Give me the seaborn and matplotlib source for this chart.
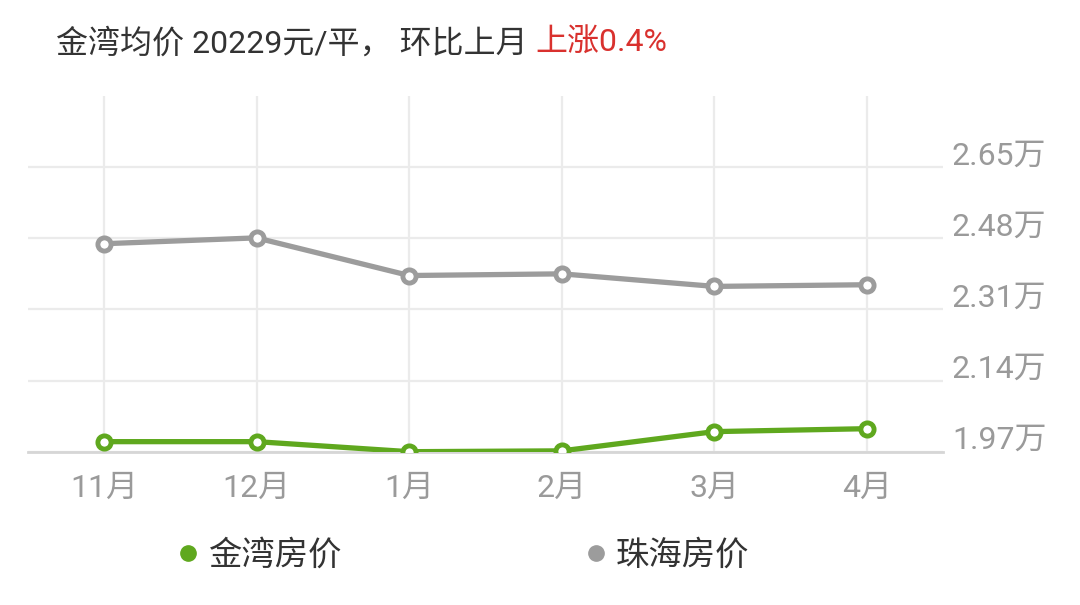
import matplotlib
matplotlib.use("Agg")
import matplotlib.pyplot as plt
import matplotlib.transforms as mtransforms
from matplotlib.lines import Line2D
import seaborn as sns
import pandas as pd

# 데이터 (단위: 万元/平)
months = ["11月", "12月", "1月", "2月", "3月", "4月"]
jinwan_price = [1.994, 1.994, 1.970, 1.972, 2.018, 2.025]
zhuhai_price = [2.467, 2.481, 2.391, 2.395, 2.365, 2.369]
y_ticks = [1.97, 2.14, 2.31, 2.48, 2.65]
y_tick_labels = ["1.97万", "2.14万", "2.31万", "2.48万", "2.65万"]
series_names = ["金湾房价", "珠海房价"]
title_main = "金湾均价 20229元/平， 环比上月 "
title_red = "上涨0.4%"

green = "#5fa81e"
gray = "#9c9c9c"

sns.set_style("white")
plt.rcParams['font.family'] = ['Roboto', 'Noto Sans CJK SC', 'DejaVu Sans']

df = pd.DataFrame({
    "month": months * 2,
    "price": jinwan_price + zhuhai_price,
    "series": [series_names[0]] * len(months) + [series_names[1]] * len(months),
})

fig = plt.figure(figsize=(10.8, 6.05), dpi=100)
ax = fig.add_axes([0.0256, 0.2534, 0.8479, 0.5879])

for name, col in zip(series_names, [green, gray]):
    sns.lineplot(data=df[df["series"] == name], x="month", y="price", ax=ax,
                 color=col, linewidth=3.8, marker="o", markersize=9.5,
                 markerfacecolor="white", markeredgecolor=col,
                 markeredgewidth=3.5, zorder=3)

ax.set_xlim(-0.5, 5.5)
ax.set_ylim(1.97, 2.82)
ax.set_yticks(y_ticks)
ax.set_yticklabels([])
ax.tick_params(axis="y", length=0)
ax.tick_params(axis="x", length=0, pad=16, labelsize=23, labelcolor="#9a9a9a")
ax.set_xlabel("")
ax.set_ylabel("")
ax.grid(True, color="#ebebeb", linewidth=1.6)
ax.set_axisbelow(True)
for s in ["top", "left", "right"]:
    ax.spines[s].set_visible(False)
ax.spines["bottom"].set_color("#d6d6d6")
ax.spines["bottom"].set_linewidth(2)

# y축 라벨 (오른쪽, 격자선 위쪽)
trans = mtransforms.blended_transform_factory(ax.transAxes, ax.transData) + \
    mtransforms.ScaledTranslation(0, 11 / 100, fig.dpi_scale_trans)
for v, lab in zip(y_ticks, y_tick_labels):
    ax.text(1.0094, v, lab, transform=trans, ha="left", va="center",
            fontsize=23, color="#9a9a9a")

# 제목
t1 = fig.text(0.052, 0.929, title_main, fontsize=23, color="#333333",
              ha="left", va="center")
fig.canvas.draw()
bb = t1.get_window_extent()
fig.text(bb.x1 / fig.bbox.width, 0.929, title_red, fontsize=23,
         color="#d9312e", ha="left", va="center")

# 범례
handles = [Line2D([], [], linestyle="none", marker="o", markersize=11,
                  color=c) for c in [green, gray]]
fig.legend(handles, series_names, loc="center left",
           bbox_to_anchor=(0.154, 0.081), ncol=2, frameon=False,
           fontsize=24, handlelength=0.5, handletextpad=0.34,
           columnspacing=7.4, borderaxespad=0, labelcolor="#333333")

fig.savefig("out.png", dpi=100)
